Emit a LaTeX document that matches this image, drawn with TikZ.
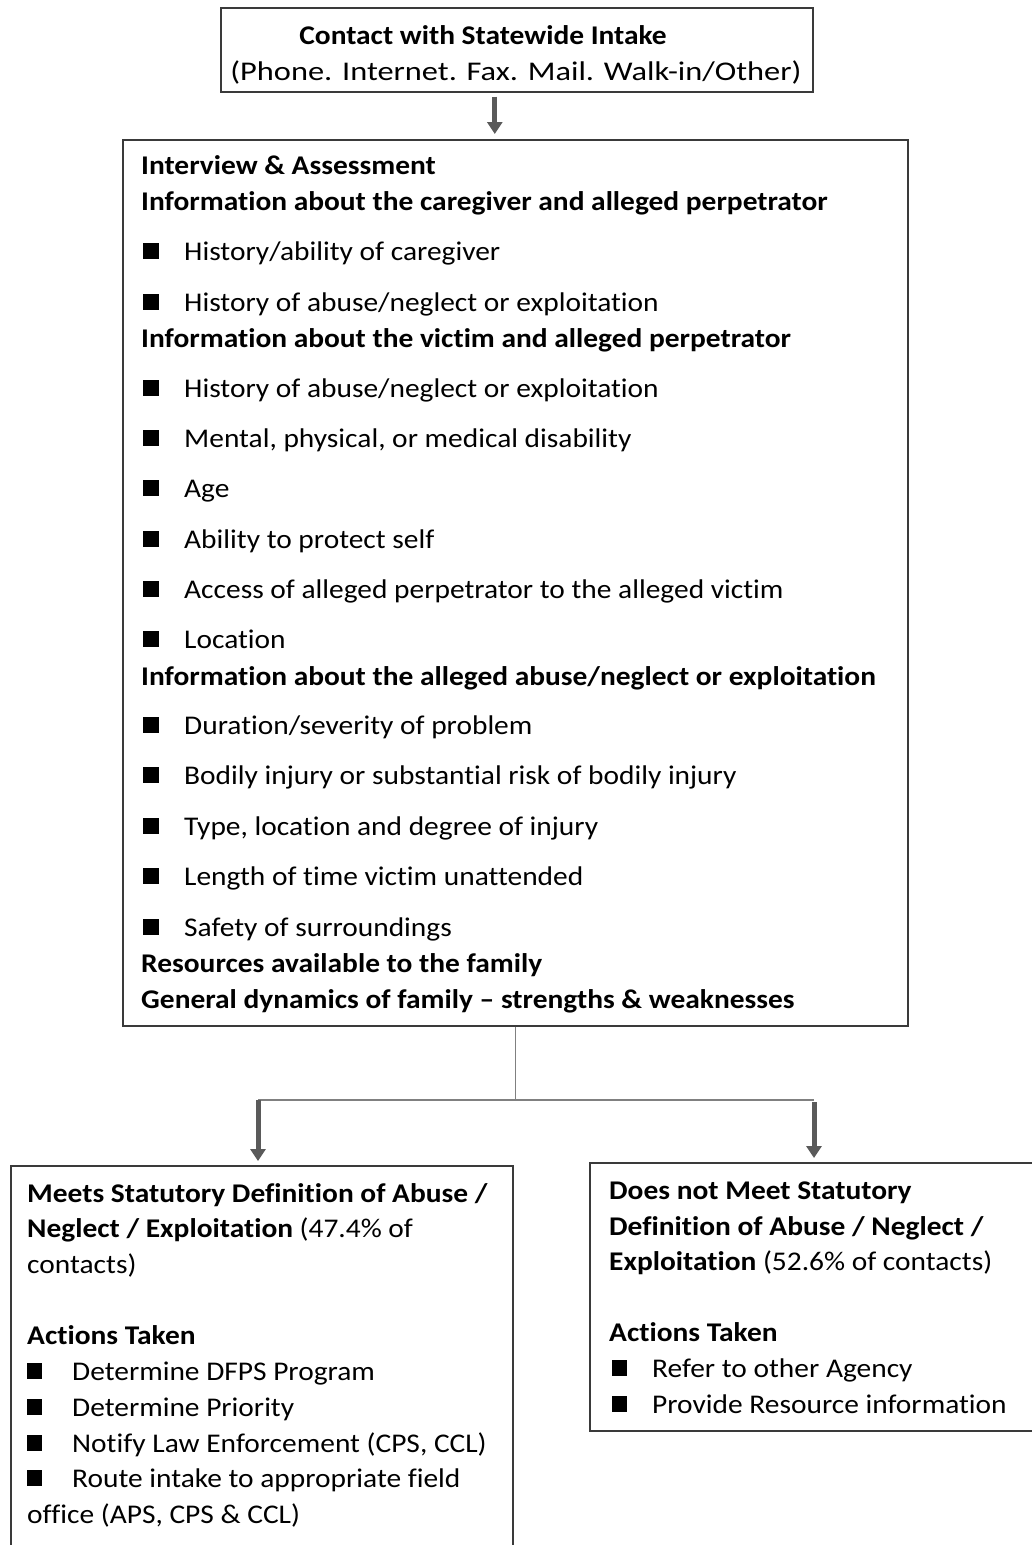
\documentclass[tikz,border=0pt]{standalone}
\usepackage{fontspec}
\setmainfont{Carlito}[Ligatures={TeX,NoCommon}, FakeStretch=1.09]
\newfontfamily\widefont{Carlito}[Ligatures={TeX,NoCommon}, FakeStretch=1.2]
\usetikzlibrary{arrows.meta,positioning}
\definecolor{boxgray}{HTML}{3A3A3A}
\definecolor{arrowgray}{HTML}{5A5A5A}
\definecolor{linegray}{HTML}{808080}
\newcommand{\sqmark}{\rule[1pt]{16pt}{16pt}}
\newcommand{\sqsmall}{\rule[1pt]{15pt}{16pt}}
\tikzset{
  box/.style={draw=boxgray, line width=1.6pt, inner sep=0pt, anchor=north west},
  flowarrow/.style={draw=arrowgray, line width=5pt, -{Triangle[width=15pt,length=12pt]}},
  joinline/.style={draw=linegray, line width=1.5pt},
  mtxt/.style={anchor=base west, inner sep=0pt, font=\fontsize{27}{32}\selectfont},
  mhdr/.style={mtxt, font=\fontsize{27}{32}\selectfont\bfseries},
  btxt/.style={anchor=base west, inner sep=0pt, font=\fontsize{27}{32}\selectfont},
  bhdr/.style={btxt, font=\fontsize{27}{32}\selectfont\bfseries},
}
\begin{document}
\begin{tikzpicture}[x=1pt,y=-1pt]
	\useasboundingbox (0,0) rectangle (1031,1545);
	
	% Intake
	\node[box, minimum width=592pt, minimum height=84pt] (intake) at (220,7) {};
	\node[bhdr, anchor=base] (intakeA) at (483,44) {Contact with Statewide Intake};
	\node[btxt, anchor=base, font=\fontsize{27}{32}\widefont] (intakeB) at (516,80) {(Phone. Internet. Fax. Mail. Walk-in/Other)};
	
	% Interview & Assessment
	\node[box, minimum width=785pt, minimum height=886pt] (assess) at (122,139) {};
	\foreach \yy/\lbl [count=\i] in {174/{Interview \& Assessment},
		210/{Information about the caregiver and alleged perpetrator},
		347/{Information about the victim and alleged perpetrator},
		685/{Information about the alleged abuse/neglect or exploitation},
		972/{Resources available to the family},
		1008/{General dynamics of family – strengths \& weaknesses}} {
		\node[mhdr] (mh\i) at (141,\yy) {\lbl};
	}
	\foreach \yy/\lbl [count=\i] in {260/{History/ability of caregiver},
		311/{History of abuse/neglect or exploitation},
		397/{History of abuse/neglect or exploitation},
		447/{Mental, physical, or medical disability},
		497/{Age},
		548/{Ability to protect self},
		598/{Access of alleged perpetrator to the alleged victim},
		648/{Location},
		734/{Duration/severity of problem},
		784/{Bodily injury or substantial risk of bodily injury},
		835/{Type, location and degree of injury},
		885/{Length of time victim unattended},
		936/{Safety of surroundings}} {
		\node[mtxt] (mq\i) at (143,\yy) {\sqmark};
		\node[mtxt] (mb\i) at (184,\yy) {\lbl};
	}
	
	% Meets definition
	\node[box, minimum width=502pt, minimum height=420pt] (meets) at (10,1165) {};
	\node[btxt] (meetsA) at (27,1202) {\textbf{Meets Statutory Definition of Abuse /}};
	\node[btxt] (meetsB) at (27,1237) {\textbf{Neglect / Exploitation} (47.4\% of};
	\node[btxt] (meetsC) at (27,1273) {contacts)};
	\node[bhdr] (meetsD) at (27,1344) {Actions Taken};
	\foreach \yy/\lbl [count=\i] in {1380/{Determine DFPS Program},
		1416/{Determine Priority},
		1452/{Notify Law Enforcement (CPS, CCL)},
		1487/{Route intake to appropriate field}} {
		\node[btxt] (aq\i) at (27,\yy) {\sqsmall};
		\node[btxt] (ab\i) at (72,\yy) {\lbl};
	}
	\node[btxt] (meetsE) at (27,1523) {office (APS, CPS \& CCL)};
	
	% Does not meet definition
	\node[box, minimum width=470pt, minimum height=268pt] (decline) at (589,1162) {};
	\node[bhdr] (declineA) at (609,1199) {Does not Meet Statutory};
	\node[bhdr] (declineB) at (609,1235) {Definition of Abuse / Neglect /};
	\node[btxt] (declineC) at (609,1270) {\textbf{Exploitation} (52.6\% of contacts)};
	\node[bhdr] (declineD) at (609,1341) {Actions Taken};
	\foreach \yy/\lbl [count=\i] in {1377/{Refer to other Agency},
		1413/{Provide Resource information}} {
		\node[btxt] (dq\i) at (612,\yy) {\sqsmall};
		\node[btxt] (db\i) at (652,\yy) {\lbl};
	}
	
	% Connectors
	\coordinate (split) at (assess.south |- 0,1100);
	\coordinate (splitL) at (258,1100);
	\coordinate (splitR) at (814,1100);
	\draw[flowarrow, shorten <=4pt, shorten >=5pt] ([xshift=-22pt]intake.south) -- ([xshift=-22pt]intake.south |- assess.north);
	\draw[joinline] (assess.south) -- (split);
	\draw[joinline] (splitL) -- (splitR);
	\draw[flowarrow, shorten >=4pt] (splitL) -- (splitL |- meets.north);
	\draw[flowarrow, shorten >=4pt] ([yshift=-2pt]splitR) -- (splitR |- decline.north);
\end{tikzpicture}
\end{document}
